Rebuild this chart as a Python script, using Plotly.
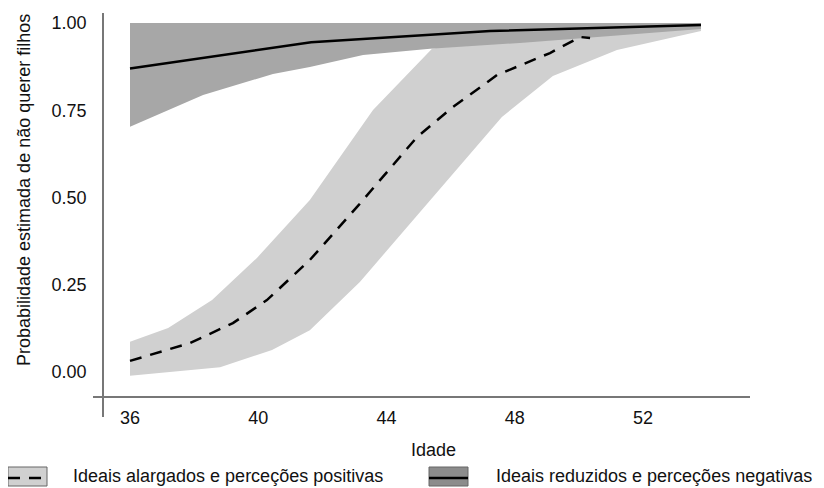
import plotly.graph_objects as go

# ---- data ----
x_ticks = [36, 40, 44, 48, 52]
y_ticks = [0.0, 0.25, 0.5, 0.75, 1.0]
y_tick_labels = ["0.00", "0.25", "0.50", "0.75", "1.00"]

# Ideais alargados e perceções positivas (light band, dashed line)
pos_upper_x = [36.0, 37.19, 38.56, 39.96, 41.61, 43.58, 45.42, 48.16, 53.81]
pos_upper_y = [0.087, 0.126, 0.206, 0.327, 0.493, 0.751, 0.926, 0.970, 0.995]
pos_lower_x = [36.0, 38.81, 40.43, 41.61, 43.17, 44.27, 45.36, 47.60, 49.19, 51.19, 53.81]
pos_lower_y = [-0.011, 0.014, 0.063, 0.120, 0.258, 0.378, 0.493, 0.731, 0.848, 0.923, 0.977]
pos_mid_x = [36.0, 37.87, 39.21, 40.27, 41.61, 43.11, 44.95, 46.07, 47.45, 49.10, 50.04, 50.35]
pos_mid_y = [0.032, 0.083, 0.140, 0.206, 0.321, 0.476, 0.673, 0.759, 0.851, 0.914, 0.960, 0.957]

# Ideais reduzidos e perceções negativas (dark band, solid line)
neg_upper_x = [36.0, 53.81]
neg_upper_y = [1.0, 1.0]
neg_lower_x = [36.0, 38.28, 40.46, 41.61, 43.27, 45.36, 48.16, 53.81]
neg_lower_y = [0.703, 0.794, 0.854, 0.874, 0.908, 0.926, 0.943, 0.983]
neg_mid_x = [36.0, 41.65, 47.23, 53.81]
neg_mid_y = [0.870, 0.945, 0.977, 0.994]

label_pos = "Ideais alargados e perceções positivas"
label_neg = "Ideais reduzidos e perceções negativas"

LIGHT = "#d0d0d0"
DARK = "#a7a7a7"
AXIS = "#777777"
FONT = "Liberation Sans, Arial, sans-serif"
FS = 18

fig = go.Figure()

fig.add_trace(go.Scatter(
    x=pos_upper_x + pos_lower_x[::-1], y=pos_upper_y + pos_lower_y[::-1],
    fill="toself", fillcolor=LIGHT, line=dict(width=0), mode="lines",
    showlegend=False, hoverinfo="skip"))
fig.add_trace(go.Scatter(
    x=neg_upper_x + neg_lower_x[::-1], y=neg_upper_y + neg_lower_y[::-1],
    fill="toself", fillcolor=DARK, line=dict(width=0), mode="lines",
    showlegend=False, hoverinfo="skip"))
fig.add_trace(go.Scatter(
    x=neg_mid_x, y=neg_mid_y, mode="lines",
    line=dict(color="black", width=2.5), name=label_neg, showlegend=False))
fig.add_trace(go.Scatter(
    x=pos_mid_x, y=pos_mid_y, mode="lines",
    line=dict(color="black", width=2.5, dash="12px,9px"), name=label_pos, showlegend=False))

# page has an 8px body margin; plot area on screen: x 93..750, y 13..417
OFF = 8
SX0, SX1, SY0, SY1 = 93, 750, 13, 417
L, T = SX0 - OFF, SY0 - OFF
R, B = 824 - (SX1 - OFF), 488 - (SY1 - OFF)
W, H = SX1 - SX0, SY1 - SY0

def px(xs):
    return (xs - SX0) / W

def py(ys):
    return (SY1 - ys) / H

fig.update_layout(
    width=824, height=488,
    margin=dict(l=L, r=R, t=T, b=B),
    paper_bgcolor="white", plot_bgcolor="white",
    font=dict(family=FONT, size=FS, color="#111111"),
    showlegend=False,
    xaxis=dict(range=[34.846, 55.339], tickvals=x_ticks, ticktext=[str(v) for v in x_ticks],
               showgrid=False, zeroline=False, showline=True, linecolor=AXIS, linewidth=1.5,
               ticks="", anchor="free", position=py(397), ticklabelstandoff=5),
    yaxis=dict(range=[-0.1289, 1.0287], tickvals=y_ticks, ticktext=y_tick_labels,
               showgrid=False, zeroline=False, showline=True, linecolor=AXIS, linewidth=1.5,
               ticks="", anchor="free", position=px(103), ticklabelstandoff=12),
)

annotations = [
    dict(text="Idade", x=px(433), y=py(450), xref="paper", yref="paper",
         showarrow=False, xanchor="center", yanchor="middle", font=dict(size=FS)),
    dict(text="Probabilidade estimada de não querer filhos", x=px(24), y=py(190),
         xref="paper", yref="paper", showarrow=False, textangle=-90,
         xanchor="center", yanchor="middle", font=dict(size=FS)),
    dict(text=label_pos, x=px(71), y=py(476), xref="paper", yref="paper",
         showarrow=False, xanchor="left", yanchor="middle", font=dict(size=FS)),
    dict(text=label_neg, x=px(494), y=py(476), xref="paper", yref="paper",
         showarrow=False, xanchor="left", yanchor="middle", font=dict(size=FS)),
]
fig.update_layout(annotations=annotations)

shapes = [
    # legend key: light
    dict(type="rect", xref="paper", yref="paper", x0=px(8), x1=px(47), y0=py(486), y1=py(467),
         fillcolor=LIGHT, line=dict(color="#666666", width=1)),
    dict(type="line", xref="paper", yref="paper", x0=px(8), x1=px(47), y0=py(478), y1=py(478),
         line=dict(color="black", width=2.5, dash="12px,9px")),
    # legend key: dark
    dict(type="rect", xref="paper", yref="paper", x0=px(429), x1=px(468), y0=py(486), y1=py(467),
         fillcolor="#8c8c8c", line=dict(color="#666666", width=1)),
    dict(type="line", xref="paper", yref="paper", x0=px(429), x1=px(468), y0=py(478), y1=py(478),
         line=dict(color="black", width=2.5)),
]
fig.update_layout(shapes=shapes)

fig.write_html("out.html")
